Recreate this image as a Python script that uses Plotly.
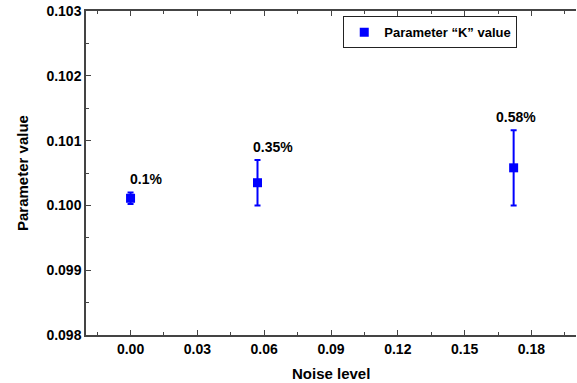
import plotly.graph_objects as go

noise_level = [0.0, 0.057, 0.172]
param_value = [0.10011, 0.10035, 0.10058]
param_error = [0.00009, 0.00035, 0.00058]
labels = ["0.1%", "0.35%", "0.58%"]
label_xshift = [15, 15, 2]
x_ticks = [0.0, 0.03, 0.06, 0.09, 0.12, 0.15, 0.18]
x_ticklabels = ["0.00", "0.03", "0.06", "0.09", "0.12", "0.15", "0.18"]
y_ticks = [0.098, 0.099, 0.100, 0.101, 0.102, 0.103]
y_ticklabels = ["0.098", "0.099", "0.100", "0.101", "0.102", "0.103"]

FONT = "Liberation Sans, Arial, sans-serif"
BLUE = "#0000FF"
AXC = "#444444"

fig = go.Figure()
fig.add_trace(go.Scatter(
    x=noise_level, y=param_value, mode="markers",
    name="<b>Parameter \u201cK\u201d value</b>",
    marker=dict(symbol="square", size=9, color=BLUE),
    error_y=dict(type="data", array=param_error, visible=True,
                 color=BLUE, thickness=2, width=3),
))

for xv, yv, ev, lab, xs in zip(noise_level, param_value, param_error, labels, label_xshift):
    fig.add_annotation(x=xv, y=yv + ev, text="<b>%s</b>" % lab, showarrow=False,
                       xanchor="center", yanchor="bottom", yshift=3, xshift=xs,
                       font=dict(family=FONT, size=14, color="black"))

fig.add_annotation(xref="paper", yref="paper", x=0.5, y=0, yshift=-38,
                   text="<b>Noise level</b>", showarrow=False,
                   xanchor="center", yanchor="middle",
                   font=dict(family=FONT, size=15, color="black"))
fig.add_annotation(xref="paper", yref="paper", x=0, y=0.5, xshift=-64,
                   text="<b>Parameter value</b>", showarrow=False, textangle=-90,
                   xanchor="center", yanchor="middle",
                   font=dict(family=FONT, size=15, color="black"))

fig.update_layout(
    width=577, height=383,
    margin=dict(l=86, r=1, t=11, b=48),
    plot_bgcolor="white", paper_bgcolor="white",
    font=dict(family=FONT, size=13, color="black"),
    showlegend=True,
    legend=dict(x=0.525, y=0.984, xanchor="left", yanchor="top",
                bgcolor="white", bordercolor="#222222", borderwidth=1,
                font=dict(family=FONT, size=13, color="black"),
                itemwidth=30),
)

fig.update_xaxes(
    range=[-0.02, 0.2], tickmode="array", automargin=False,
    tickvals=x_ticks,
    ticktext=["<b>%s</b>" % t for t in x_ticklabels],
    tickfont=dict(family=FONT, size=14, color="black"),
    showline=True, linecolor=AXC, linewidth=1.5, mirror="ticks",
    ticks="inside", ticklen=5, tickcolor=AXC, tickwidth=1,
    minor=dict(ticks="inside", ticklen=3, dtick=0.015, tick0=0, tickcolor=AXC, showgrid=False),
    showgrid=False, zeroline=False,
)
fig.update_yaxes(
    range=[0.098, 0.103], tickmode="array", automargin=False,
    tickvals=y_ticks,
    ticktext=["<b>%s</b>" % t for t in y_ticklabels],
    tickfont=dict(family=FONT, size=14, color="black"),
    showline=True, linecolor=AXC, linewidth=1.5, mirror=False,
    ticks="inside", ticklen=5, tickcolor=AXC, tickwidth=1,
    minor=dict(ticks="inside", ticklen=3, dtick=0.0005, tick0=0.098, tickcolor=AXC, showgrid=False),
    showgrid=False, zeroline=False,
)

fig.write_html("out.html")
